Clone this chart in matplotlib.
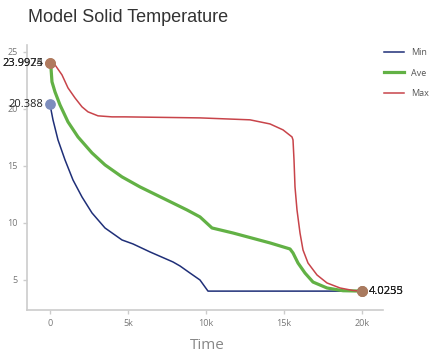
import matplotlib
matplotlib.use('Agg')
import matplotlib.pyplot as plt

# Datos
t_min = [0, 192, 513, 962, 1474, 2051, 2692, 3526, 4615, 5321, 6410, 7885, 8333, 8974, 9615, 10128, 20000]
v_min = [20.388, 19.04, 17.28, 15.53, 13.77, 12.28, 10.88, 9.56, 8.51, 8.16, 7.46, 6.58, 6.23, 5.61, 5.0, 4.0253, 4.0253]

t_ave = [0, 64, 128, 321, 641, 1154, 1795, 2692, 3526, 4615, 5769, 8782, 9615, 10385, 11731,
         14103, 15385, 15577, 15897, 16346, 16859, 17756, 18782, 20000]
v_ave = [23.9924, 23.60, 22.37, 21.49, 20.35, 18.86, 17.54, 16.14, 15.09, 14.04, 13.16, 11.14, 10.53, 9.56, 9.12,
         8.25, 7.72, 7.37, 6.49, 5.61, 4.82, 4.30, 4.06, 4.0255]

t_max = [0, 321, 769, 1154, 1603, 2051, 2436, 3077, 3974, 4808, 9615, 12821, 14103, 14936, 15513, 15577,
         15641, 15705, 15833, 16026, 16218, 16538, 17115, 17756, 18590, 19423, 20000]
v_max = [23.9975, 23.86, 22.98, 21.84, 20.96, 20.18, 19.74, 19.39, 19.30, 19.30, 19.21, 19.04, 18.68, 18.16, 17.54, 17.28,
         15.53, 13.16, 11.14, 9.12, 7.63, 6.49, 5.44, 4.74, 4.30, 4.08, 4.0235]

x_ticks = [0, 5000, 10000, 15000, 20000]
x_ticklabels = ['0', '5k', '10k', '15k', '20k']
y_ticks = [5, 10, 15, 20, 25]

plt.rcParams['font.family'] = ['Open Sans', 'DejaVu Sans']

fig = plt.figure(figsize=(4.41, 3.6), dpi=100)
ax = fig.add_axes([0.0612, 0.1389, 0.8073, 0.7361])

ax.plot(t_min, v_min, color='#1f2f78', lw=1.1, label='Min')
ax.plot(t_ave, v_ave, color='#62b145', lw=2.3, label='Ave')
ax.plot(t_max, v_max, color='#c8444a', lw=1.1, label='Max')

# marcadores de inicio y fin
ax.scatter([t_min[0]], [v_min[0]], s=45, color='#7d8dbd', zorder=5)
ax.scatter([t_ave[0], t_max[0]], [v_ave[0], v_max[0]], s=45, color='#b07a5e', zorder=5)
ax.scatter([t_ave[-1], t_max[-1], t_min[-1]], [v_ave[-1], v_max[-1], v_min[-1]], s=45, color='#a97a5f', zorder=5)

# etiquetas de valores
for t, v in [(t_min[0], v_min[0]), (t_ave[0], v_ave[0]), (t_max[0], v_max[0])]:
    ax.annotate(f'{v:g}', (t, v), xytext=(-5, 0), textcoords='offset points',
                ha='right', va='center', fontsize=8, color='#222222')
for t, v in [(t_min[-1], v_min[-1]), (t_ave[-1], v_ave[-1]), (t_max[-1], v_max[-1])]:
    ax.annotate(f'{v:g}', (t, v), xytext=(5, 0), textcoords='offset points',
                ha='left', va='center', fontsize=8, color='#222222')

ax.set_xlim(-1474, 21346)
ax.set_ylim(2.37, 25.6)
ax.set_xticks(x_ticks)
ax.set_xticklabels(x_ticklabels)
ax.set_yticks(y_ticks)
ax.tick_params(colors='#cccccc', labelcolor='#777777', labelsize=6.5, length=3, width=1)
for s in ['top', 'right']:
    ax.spines[s].set_visible(False)
for s in ['left', 'bottom']:
    ax.spines[s].set_color('#cccccc')
    ax.spines[s].set_linewidth(1.2)

fig.text(0.063, 0.95, 'Model Solid Temperature', fontsize=13, color='#333333',
         family=['Liberation Sans', 'DejaVu Sans'], va='center')
fig.text(0.47, 0.04, 'Time', fontsize=11, color='#888888', ha='center', va='center')

leg = ax.legend(loc='upper left', bbox_to_anchor=(0.98, 1.02), frameon=False,
                fontsize=6.5, handlelength=2.2, labelspacing=1.3)
for txt in leg.get_texts():
    txt.set_color('#555555')

fig.savefig('out.png', dpi=100)
